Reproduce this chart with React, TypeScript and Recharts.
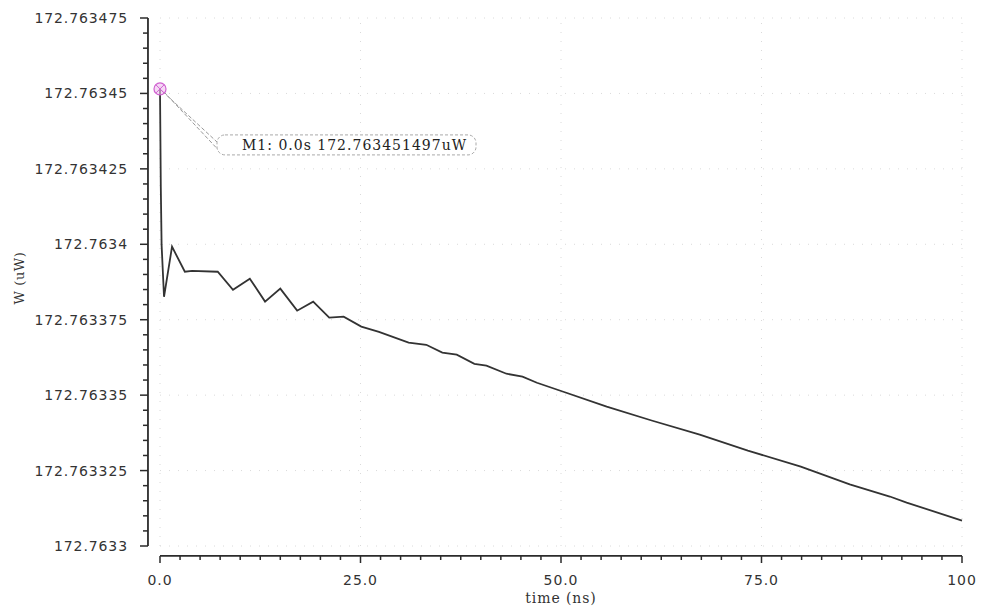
import { LineChart, Line, XAxis, YAxis, ReferenceLine, ReferenceDot } from "recharts";

// transient power trace
const timeNs = [
  0, 0.1, 0.2, 0.5, 1.5, 3.1, 4.0, 7.2, 9.1, 11.2, 13.1, 15.0, 17.1, 19.1, 21.1, 22.9,
  25.1, 27.3, 31.0, 33.2, 35.2, 37.0, 39.2, 40.7, 43.2, 45.2, 47.0, 50.2, 55.7, 61.3,
  67.3, 73.3, 79.9, 86.0, 91.0, 93.1, 100,
];
const powerUw = [
  172.763451497, 172.763419, 172.7633998, 172.7633826, 172.7633992, 172.7633909,
  172.7633912, 172.7633909, 172.7633849, 172.7633886, 172.763381, 172.7633853,
  172.763378, 172.763381, 172.7633757, 172.763376, 172.7633727, 172.763371,
  172.7633674, 172.7633667, 172.7633641, 172.7633634, 172.7633604, 172.7633598,
  172.7633571, 172.7633561, 172.7633541, 172.7633512, 172.7633462, 172.7633416,
  172.7633369, 172.7633316, 172.7633263, 172.7633204, 172.7633164, 172.7633144,
  172.7633084,
];

const xMajorTicks = [0, 25, 50, 75, 100];
const xTickLabels = ["0.0", "25.0", "50.0", "75.0", "100"];
const yMajorTicks = [
  172.7633, 172.763325, 172.76335, 172.763375, 172.7634, 172.763425, 172.76345, 172.763475,
];
const yTickLabels = [
  "172.7633", "172.763325", "172.76335", "172.763375", "172.7634", "172.763425", "172.76345", "172.763475",
];

const markerTime = 0;
const markerValue = 172.763451497;
const markerLabel = "M1: 0.0s 172.763451497uW";

const MINOR = 5;
const xTicks: number[] = [];
for (let i = 0; i < xMajorTicks.length - 1; i++) {
  const step = (xMajorTicks[i + 1] - xMajorTicks[i]) / 10;
  for (let k = 0; k < 10; k++) xTicks.push(xMajorTicks[i] + k * step);
}
xTicks.push(xMajorTicks[xMajorTicks.length - 1]);

const yTicks: number[] = [];
for (let i = 0; i < yMajorTicks.length - 1; i++) {
  const step = (yMajorTicks[i + 1] - yMajorTicks[i]) / MINOR;
  for (let k = 0; k < MINOR; k++) yTicks.push(yMajorTicks[i] + k * step);
}
yTicks.push(yMajorTicks[yMajorTicks.length - 1]);

const data = timeNs.map((t, i) => ({ t, p: powerUw[i] }));

const sans = "'DejaVu Sans', sans-serif";
const serif = "'DejaVu Serif', serif";
const ink = "#2b2b2b";

const YTick = (props: any) => {
  const { x, y, index } = props;
  const major = index % MINOR === 0;
  const ax = x - 12;
  return (
    <g>
      <line x1={ax - (major ? 8 : 5)} x2={ax} y1={y} y2={y} stroke={ink} strokeWidth={1.5} />
      {major && (
        <text x={ax - 20} y={y + 5} textAnchor="end" fontFamily={sans} fontSize={14} letterSpacing={0.9} fill="#333">
          {yTickLabels[index / MINOR]}
        </text>
      )}
    </g>
  );
};

const XTick = (props: any) => {
  const { x, y, index } = props;
  const major = index % 10 === 0;
  const ay = y + 10;
  return (
    <g>
      <line x1={x} x2={x} y1={ay} y2={ay + (major ? 7 : 4)} stroke={ink} strokeWidth={1.5} />
      {major && (
        <text x={x} y={ay + 29} textAnchor="middle" fontFamily={sans} fontSize={14} letterSpacing={0.9} fill="#333">
          {xTickLabels[index / 10]}
        </text>
      )}
    </g>
  );
};

const MarkerShape = (props: any) => {
  const { cx, cy } = props;
  return (
    <g>
      <line x1={cx + 2} y1={cy + 2} x2={cx + 58} y2={cy + 54} stroke="#999" strokeDasharray="4 2" />
      <line x1={cx + 4} y1={cy + 3} x2={cx + 63} y2={cy + 66} stroke="#999" strokeDasharray="4 2" />
      <rect x={cx + 57} y={cy + 46} width={259} height={20} rx={8} fill="#fff" stroke="#aaa" strokeDasharray="3 2" />
      <text x={cx + 82} y={cy + 61} fontFamily={serif} fontSize={14} letterSpacing={1} fill="#222">
        {markerLabel}
      </text>
      <circle cx={cx} cy={cy} r={6} fill="#f0c0f0" fillOpacity={0.6} stroke="#d060d0" strokeWidth={1.2} />
      <path d={`M${cx - 4},${cy - 4}L${cx + 4},${cy + 4}M${cx + 4},${cy - 4}L${cx - 4},${cy + 4}`} stroke="#d060d0" />
    </g>
  );
};

export default function App() {
  const yLow = yMajorTicks[0];
  const yHigh = yMajorTicks[yMajorTicks.length - 1];
  const axisY = yLow - 0.0000033; // x axis line sits a little below the plot
  return (
    <div>
      <style>{`body{margin:0;background:#fff}`}</style>
      <LineChart width={981} height={608} data={data} margin={{ top: 18, right: 19, bottom: 0, left: 0 }}>
        <XAxis
          dataKey="t"
          type="number"
          domain={[0, 100]}
          ticks={xTicks}
          interval={0}
          height={62}
          axisLine={false}
          tickLine={false}
          tickSize={0}
          tickMargin={0}
          tick={<XTick />}
          label={(p: any) => {
            const vb = p.viewBox;
            return (
              <text x={vb.x + vb.width / 2} y={vb.y + 57} textAnchor="middle" fontFamily={serif} fontSize={14} letterSpacing={0.9} fill="#333">
                time (ns)
              </text>
            );
          }}
        />
        <YAxis
          type="number"
          domain={[yLow, yHigh]}
          ticks={yTicks}
          interval={0}
          width={160}
          allowDataOverflow
          axisLine={false}
          tickLine={false}
          tickSize={0}
          tickMargin={0}
          tick={<YTick />}
          label={(p: any) => {
            const vb = p.viewBox;
            const cx = vb.x + 19;
            const cy = vb.y + vb.height / 2 - 4;
            return (
              <text x={cx} y={cy} transform={`rotate(-90 ${cx} ${cy})`} textAnchor="middle" dominantBaseline="central" fontFamily={serif} fontSize={13} letterSpacing={0.6} fill="#333">
                W (uW)
              </text>
            );
          }}
        />
        {xMajorTicks.map((v) => (
          <ReferenceLine key={`gx${v}`} x={v} stroke="#dadada" strokeDasharray="1 8" />
        ))}
        {yMajorTicks.map((v) => (
          <ReferenceLine key={`gy${v}`} y={v} stroke="#dadada" strokeDasharray="1 8" />
        ))}
        <ReferenceLine
          segment={[{ x: -1.5, y: yLow }, { x: -1.5, y: yHigh }]}
          stroke={ink}
          strokeWidth={1.8}
          ifOverflow="visible"
        />
        <ReferenceLine
          segment={[{ x: 0, y: axisY }, { x: 100, y: axisY }]}
          stroke={ink}
          strokeWidth={1.8}
          ifOverflow="visible"
        />
        <Line
          type="linear"
          dataKey="p"
          stroke="#333"
          strokeWidth={1.8}
          dot={false}
          isAnimationActive={false}
        />
        <ReferenceDot x={markerTime} y={markerValue} ifOverflow="visible" shape={<MarkerShape />} />
      </LineChart>
    </div>
  );
}
